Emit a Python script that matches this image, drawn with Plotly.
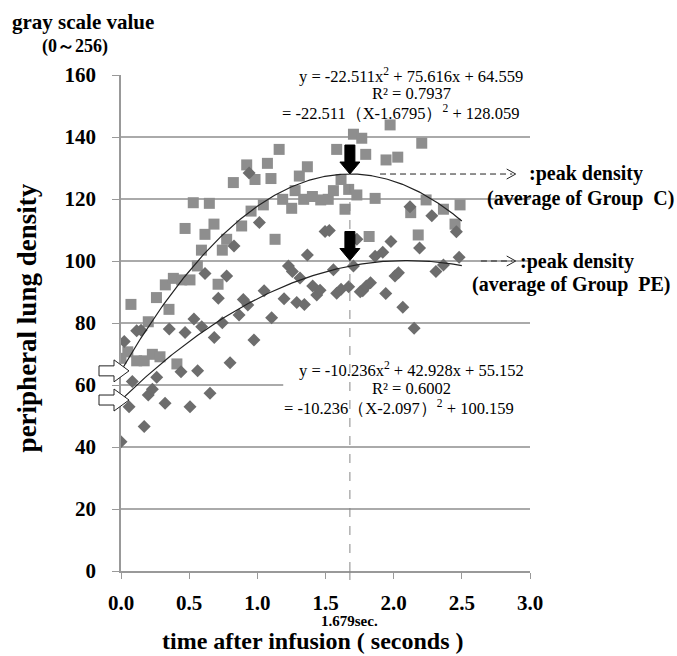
import plotly.graph_objects as go
import numpy as np

# ---------------- data ----------------
groupC_x = [0.0, 0.05, 0.073, 0.115, 0.17, 0.2, 0.23, 0.26, 0.286, 0.325, 0.352, 0.384, 0.41, 0.445,
            0.47, 0.506, 0.53, 0.56, 0.59, 0.616, 0.648, 0.682, 0.712, 0.743, 0.775, 0.824, 0.885,
            0.922, 0.954, 0.983, 1.044, 1.074, 1.1, 1.13, 1.16, 1.186, 1.252, 1.277, 1.308, 1.34,
            1.367, 1.404, 1.465, 1.52, 1.558, 1.582, 1.614, 1.643, 1.67, 1.705, 1.73, 1.766, 1.795,
            1.82, 1.864, 1.944, 1.974, 2.03, 2.125, 2.18, 2.206, 2.238, 2.365, 2.45, 2.487]
groupC_y = [68.6, 70.7, 86.0, 67.8, 67.8, 80.4, 69.9, 88.2, 69.1, 92.3, 84.4, 94.4, 66.8, 93.9,
            110.5, 93.9, 118.8, 98.4, 103.5, 108.6, 118.6, 111.9, 92.5, 103.5, 107.0, 125.3, 111.3,
            131.0, 116.1, 126.3, 118.1, 131.5, 126.6, 107.0, 136.0, 119.9, 117.0, 122.7, 127.4, 119.9,
            130.4, 120.8, 119.7, 119.9, 122.7, 136.0, 126.3, 116.7, 123.1, 140.9, 121.3, 139.6, 134.4,
            107.9, 120.2, 132.6, 143.9, 133.5, 115.6, 108.4, 138.0, 119.7, 116.7, 111.9, 118.1]

groupPE_x = [0.0, 0.024, 0.059, 0.083, 0.115, 0.147, 0.17, 0.2, 0.23, 0.262, 0.323, 0.354, 0.44,
             0.47, 0.506, 0.535, 0.562, 0.592, 0.616, 0.653, 0.684, 0.714, 0.743, 0.775, 0.8, 0.829,
             0.866, 0.897, 0.93, 0.94, 0.975, 1.015, 1.05, 1.105, 1.196, 1.228, 1.257, 1.289, 1.313,
             1.345, 1.367, 1.406, 1.436, 1.46, 1.497, 1.528, 1.558, 1.582, 1.614, 1.67, 1.705, 1.73,
             1.755, 1.773, 1.8, 1.83, 1.864, 1.92, 1.942, 1.98, 2.01, 2.035, 2.067, 2.12, 2.15, 2.19,
             2.28, 2.31, 2.365, 2.46, 2.48]
groupPE_y = [41.7, 74.0, 53.0, 61.1, 77.5, 77.7, 46.6, 56.8, 58.6, 62.5, 54.1, 78.1, 64.3,
             76.9, 53.0, 81.3, 64.6, 78.8, 96.0, 57.3, 75.3, 88.0, 80.1, 95.2, 67.2, 104.8,
             82.6, 87.6, 85.8, 128.4, 74.5, 112.4, 90.4, 81.7, 87.8, 98.4, 96.6, 86.6, 94.5,
             86.0, 101.9, 91.9, 89.0, 90.6, 109.5, 109.8, 97.2, 89.6, 90.9, 91.7, 98.4, 107.0,
             90.1, 90.4, 91.9, 93.0, 101.5, 102.8, 89.5, 106.3, 95.2, 96.2, 85.1, 117.5, 78.3, 104.2,
             114.6, 96.6, 98.7, 109.4, 101.2]

# trendline coefficients (a, b, c) as printed on the chart, and peak values
coefC = [-22.511, 75.616, 64.559]
coefPE = [-10.236, 42.928, 55.152]
peakC = [1.6795, 128.059]
peakPE = [2.097, 100.159]
trend_range = [0.0, 2.5]
marker_time = 1.679

eqC_lines = ["y = -22.511x<sup>2</sup> + 75.616x + 64.559", "R² = 0.7937",
             "= -22.511（X-1.6795）<sup>2</sup> + 128.059"]
eqPE_lines = ["y = -10.236x<sup>2</sup> + 42.928x + 55.152", "R² = 0.6002",
              "= -10.236（X-2.097）<sup>2</sup> + 100.159"]

x_ticks = [0.0, 0.5, 1.0, 1.5, 2.0, 2.5, 3.0]
x_tick_text = ["0.0", "0.5", "1.0", "1.5", "2.0", "2.5", "3.0"]
y_ticks = [0, 20, 40, 60, 80, 100, 120, 140, 160]

SERIF = "Liberation Serif, Times New Roman, serif"

tx = np.linspace(trend_range[0], trend_range[1], 200)
fitC = np.polyval(coefC, tx)
fitPE = np.polyval(coefPE, tx)

fig = go.Figure()
fig.add_trace(go.Scatter(x=groupC_x, y=groupC_y, mode="markers",
                         marker=dict(symbol="square", size=11, color="#8e8e8e"),
                         showlegend=False))
fig.add_trace(go.Scatter(x=groupPE_x, y=groupPE_y, mode="markers",
                         marker=dict(symbol="diamond", size=10, color="#6d6d6d"),
                         showlegend=False))
fig.add_trace(go.Scatter(x=tx, y=fitC, mode="lines", line=dict(color="#222", width=1.2),
                         showlegend=False))
fig.add_trace(go.Scatter(x=tx, y=fitPE, mode="lines", line=dict(color="#222", width=1.2),
                         showlegend=False))

shapes = []
# white boxes behind the equation texts (they interrupt the gridlines)
shapes.append(dict(type="rect", xref="x", yref="paper", x0=1.19, x1=3.0, y0=0.975, y1=1.03,
                   fillcolor="white", line=dict(width=0), layer="above"))
shapes.append(dict(type="rect", xref="x", yref="y", x0=1.19, x1=3.0, y0=56.5, y1=63.0,
                   fillcolor="white", line=dict(width=0), layer="above"))

# dashed vertical line at the peak time
shapes.append(dict(type="line", xref="x", yref="y", x0=marker_time, x1=marker_time,
                   y0=0, y1=peakC[1], line=dict(color="#888", width=1, dash="dash")))
shapes.append(dict(type="line", xref="x", yref="paper", x0=marker_time, x1=marker_time,
                   y0=0, y1=-0.035, line=dict(color="#888", width=1, dash="dash")))

# black block arrows pointing at the peaks
block = "M0,0 L-10,12 L-5,12 L-5,29 L5,29 L5,12 L10,12 Z"
for yv in [peakC[1], peakPE[1]]:
    shapes.append(dict(type="path", xref="x", yref="y", xsizemode="pixel", ysizemode="pixel",
                       xanchor=marker_time, yanchor=yv, path=block,
                       fillcolor="black", line=dict(color="black", width=1)))

# hollow arrows pointing at intercepts
hollow = "M8,0 L-7,-11 L-7,-5 L-22,-5 L-22,5 L-7,5 L-7,11 Z"
for yv in [coefC[2], coefPE[2]]:
    shapes.append(dict(type="path", xref="paper", yref="y", xsizemode="pixel", ysizemode="pixel",
                       xanchor=0, yanchor=yv, path=hollow,
                       fillcolor="white", line=dict(color="#222", width=1)))

# dashed pointer lines to the right-hand labels
shapes.append(dict(type="line", xref="x", yref="y", x0=1.9, x1=2.87, y0=peakC[1], y1=peakC[1],
                   line=dict(color="#222", width=1, dash="6px,4px")))
shapes.append(dict(type="path", xref="x", yref="y", xsizemode="pixel", ysizemode="pixel",
                   xanchor=2.895, yanchor=peakC[1], path="M-9,5 L0,0 L-9,-5",
                   line=dict(color="#222", width=1)))
shapes.append(dict(type="line", xref="x", yref="y", x0=2.64, x1=2.87, y0=100.0, y1=100.0,
                   line=dict(color="#222", width=1, dash="6px,4px")))
shapes.append(dict(type="path", xref="x", yref="y", xsizemode="pixel", ysizemode="pixel",
                   xanchor=2.895, yanchor=100.0, path="M-9,5 L0,0 L-9,-5",
                   line=dict(color="#222", width=1)))

ann = []
eq_font = dict(family=SERIF, size=16.5, color="black")
# upper group equation (top line sits on the 160 gridline -> paper reference)
ann.append(dict(xref="x", yref="paper", x=2.128, y=1.0, xanchor="center", yanchor="middle",
                showarrow=False, text=eqC_lines[0], font=eq_font, borderpad=0))
for txt, xv, yv in zip(eqC_lines[1:], [2.128, 2.05], [154.0, 147.8]):
    ann.append(dict(xref="x", yref="y", x=xv, y=yv, xanchor="center", yanchor="middle",
                    showarrow=False, text=txt, font=eq_font, borderpad=0))
for txt, xv, yv in zip(eqPE_lines, [2.128, 2.128, 2.04], [65.0, 58.8, 52.6]):
    ann.append(dict(xref="x", yref="y", x=xv, y=yv, xanchor="center", yanchor="middle",
                    showarrow=False, text=txt, font=eq_font, borderpad=0))

bold = dict(family=SERIF, size=20, color="black", weight="bold")
ann.append(dict(xref="paper", yref="y", x=0.993, y=128.1, xanchor="left", yanchor="middle",
                showarrow=False, text=":peak density", font=bold))
ann.append(dict(xref="paper", yref="y", x=0.89, y=120.3, xanchor="left", yanchor="middle",
                showarrow=False, text="(average of Group  C)", font=bold))
ann.append(dict(xref="paper", yref="y", x=0.97, y=99.9, xanchor="left", yanchor="middle",
                showarrow=False, text=":peak density", font=bold))
ann.append(dict(xref="paper", yref="y", x=0.853, y=92.3, xanchor="left", yanchor="middle",
                showarrow=False, text="(average of Group  PE)", font=bold))

ann.append(dict(xref="paper", yref="paper", x=-0.272, y=1.107, xanchor="left", yanchor="middle",
                showarrow=False, text="gray scale value",
                font=dict(family=SERIF, size=21, color="black", weight="bold")))
ann.append(dict(xref="paper", yref="paper", x=-0.112, y=1.058, xanchor="center", yanchor="middle",
                showarrow=False, text="(0～256)",
                font=dict(family=SERIF, size=18, color="black", weight="bold")))
ann.append(dict(xref="paper", yref="paper", x=-0.229, y=0.51, xanchor="center", yanchor="middle",
                showarrow=False, textangle=-90, text="peripheral lung density",
                font=dict(family=SERIF, size=27, color="black", weight="bold")))
ann.append(dict(xref="paper", yref="paper", x=0.469, y=-0.142, xanchor="center", yanchor="middle",
                showarrow=False, text="time after infusion ( seconds )",
                font=dict(family=SERIF, size=24, color="black", weight="bold")))
ann.append(dict(xref="x", yref="paper", x=marker_time, y=-0.1, xanchor="center", yanchor="middle",
                showarrow=False, text="1.679sec.",
                font=dict(family=SERIF, size=15, color="black", weight="bold")))

fig.update_layout(
    width=677, height=656,
    margin=dict(l=121, r=147, t=75, b=85),
    paper_bgcolor="white", plot_bgcolor="white",
    shapes=shapes, annotations=ann,
    xaxis=dict(range=[0, 3], tickvals=x_ticks, ticktext=x_tick_text, showgrid=False,
               showline=True, linecolor="#999", linewidth=1.5, ticks="outside", ticklen=6,
               tickcolor="#999", zeroline=False, ticklabelstandoff=6,
               tickfont=dict(family=SERIF, size=21, color="black", weight="bold")),
    yaxis=dict(range=[0, 160], tickvals=y_ticks, showgrid=True, gridcolor="#aaa", gridwidth=1.5,
               showline=True, linecolor="#999", linewidth=1.5, ticks="outside", ticklen=7,
               tickcolor="#999", zeroline=False, ticklabelstandoff=12,
               tickfont=dict(family=SERIF, size=21, color="black", weight="bold")),
)

fig.write_html("out.html")
